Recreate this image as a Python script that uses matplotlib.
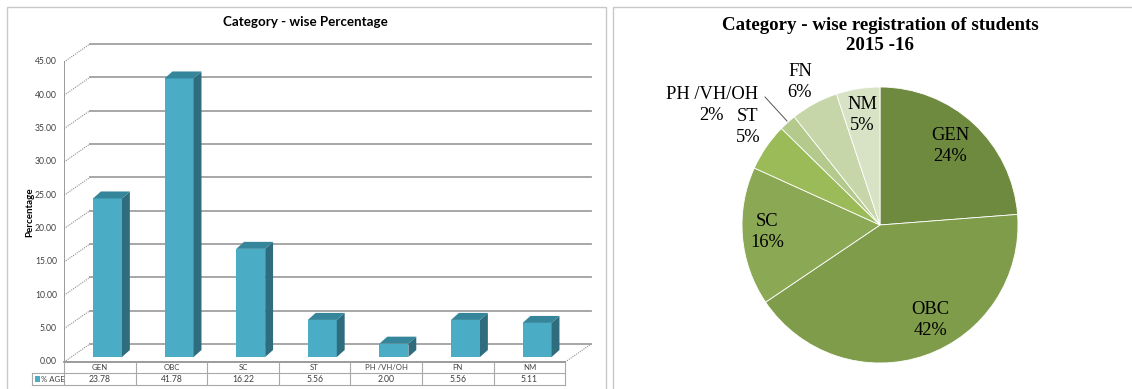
import matplotlib.pyplot as plt
from matplotlib.patches import Polygon, Rectangle

categories = ["GEN", "OBC", "SC", "ST", "PH /VH/OH", "FN", "NM"]
table_names = ["GEN", "OBC", "SC", "ST", "PH /VH/OH", "FN", "NM"]
percent = [23.78, 41.78, 16.22, 5.56, 2.00, 5.56, 5.11]
pie_pct_labels = ["24%", "42%", "16%", "5%", "2%", "6%", "5%"]
yticks = [0, 5, 10, 15, 20, 25, 30, 35, 40, 45]

W, H = 1132, 389
fig = plt.figure(figsize=(W / 100, H / 100), dpi=100)
fig.patch.set_facecolor("white")

# panel borders
fig.patches.append(Rectangle((7 / W, -0.05), 599 / W, (H - 7) / H + 0.05, transform=fig.transFigure,
                             fill=False, ec="#c8c8c8", lw=1.0))
fig.patches.append(Rectangle((613 / W, -0.05), 530 / W, (H - 7) / H + 0.05, transform=fig.transFigure,
                             fill=False, ec="#c8c8c8", lw=1.0))

# ---------- left: pseudo 3d column chart ----------
cat_px = 71.6
unit_px = 6.667
ax = fig.add_axes([64 / W, (H - 362) / H, 536 / W, 48 * unit_px / H])
ax.set_xlim(-0.5, -0.5 + 536 / cat_px)
ax.set_ylim(0, 48)
ax.axis("off")

dx, dy = 26 / cat_px, 18 / unit_px
n = len(categories)
grid_c = "#a0a0a0"
for v in yticks:
    ax.plot([-0.5 + dx, n - 0.5 + dx], [v + dy, v + dy], color=grid_c, lw=1.3, zorder=1)
    ax.plot([-0.5, -0.5 + dx], [v, v + dy], color="#909090", lw=0.8, ls=(0, (1, 1)), zorder=1)
    ax.text(-0.6, v, "%.2f" % v, ha="right", va="center", fontsize=6.2, color="#404040",
            family="Lato")
ax.plot([n - 0.5, n - 0.5 + dx], [0, dy], color="#909090", lw=0.8, ls=(0, (1, 1)), zorder=1)
ax.plot([-0.5, -0.5], [0, 45], color="#8a8a8a", lw=1.2, zorder=2)

front_c, side_c, top_c = "#4bacc6", "#2f6d7e", "#35869a"
off, bw, base = -0.095, 0.405, 0.75
sd, td = 0.11, 1.05
xs = [i + off + bw / 2 for i in range(n)]
ax.bar(xs, percent, width=bw, bottom=base, color=front_c, zorder=3)
for x, v in zip(xs, percent):
    xl, xr = x - bw / 2, x + bw / 2
    top = base + v
    ax.add_patch(Polygon([(xr, base), (xr + sd, base + td), (xr + sd, top + td), (xr, top)],
                         closed=True, fc=side_c, ec="none", zorder=3))
    ax.add_patch(Polygon([(xl, top), (xl + sd, top + td), (xr + sd, top + td), (xr, top)],
                         closed=True, fc=top_c, ec="none", zorder=3))

# data table under the axis
r1, r2 = -11 / unit_px, -23 / unit_px
leg_x = -0.5 - 32 / cat_px
tc = "#a8a8a8"
ax.plot([-0.5, n - 0.5], [0, 0], color="#8a8a8a", lw=1.2, clip_on=False)
ax.plot([leg_x, n - 0.5], [r1, r1], color=tc, lw=0.8, clip_on=False)
ax.plot([leg_x, n - 0.5], [r2, r2], color=tc, lw=0.8, clip_on=False)
for k in range(n + 1):
    ax.plot([k - 0.5, k - 0.5], [0, r2], color=tc, lw=0.8, clip_on=False)
ax.plot([leg_x, leg_x], [r1, r2], color=tc, lw=0.8, clip_on=False)
for i in range(n):
    ax.text(i, r1 / 2, table_names[i], ha="center", va="center", fontsize=5.6, color="#404040",
            family="Lato", clip_on=False)
    ax.text(i, (r1 + r2) / 2, "%.2f" % percent[i], ha="center", va="center", fontsize=6.2,
            color="#404040", family="Lato", clip_on=False)
ax.add_patch(Rectangle((leg_x + 3 / cat_px, (r1 + r2) / 2 - 3 / unit_px), 5 / cat_px, 6 / unit_px,
                       fc=front_c, ec="none", clip_on=False))
ax.text(leg_x + 9 / cat_px, (r1 + r2) / 2, "% AGE", ha="left", va="center", fontsize=5.6,
        color="#404040", family="Lato", clip_on=False)

fig.text(305 / W, 1 - 22 / H, "Category - wise Percentage", ha="center", va="center",
         fontsize=9.6, fontweight="bold", family="Lato")
fig.text(30 / W, 1 - 212 / H, "Percentage", ha="center", va="center", rotation=90,
         fontsize=7, fontweight="bold", family="Lato")

# ---------- right: pie chart ----------
r_px = 138
half = 150
pax = fig.add_axes([(880 - half) / W, (H - 225 - half) / H, 2 * half / W, 2 * half / H])
pie_colors = ["#6e8a3f", "#7f9c4a", "#8ba855", "#9bbb59", "#b4ca8c", "#c6d6a9", "#d8e3c5"]
pax.pie(percent, colors=pie_colors, startangle=90, counterclock=False, radius=1,
        wedgeprops=dict(edgecolor="white", linewidth=0.6))
lim = half / r_px
pax.set_xlim(-lim, lim)
pax.set_ylim(-lim, lim)
pax.set_aspect("auto")
pax.axis("off")

label_pos = [(950, 146), (930, 320), (767, 232), (748, 127), (712, 105), (800, 82), (862, 115)]
for name, pct, (px, py) in zip(categories, pie_pct_labels, label_pos):
    for line, shift in ((name, -10.5), (pct, 10.5)):
        pax.text((px - 880) / r_px, (225 - py - shift) / r_px, line, ha="center", va="center",
                 fontsize=13.3, family="Liberation Serif")
pax.plot([(765 - 880) / r_px, (787 - 880) / r_px], [(225 - 97) / r_px, (225 - 121) / r_px],
         color="#555555", lw=0.7, clip_on=False)

fig.text(880 / W, 1 - 25 / H, "Category - wise registration of students", ha="center",
         va="center", fontsize=13.6, fontweight="bold", family="Liberation Serif")
fig.text(880 / W, 1 - 46 / H, "2015 -16", ha="center",
         va="center", fontsize=13.6, fontweight="bold", family="Liberation Serif")

fig.savefig("out.png", dpi=100)
